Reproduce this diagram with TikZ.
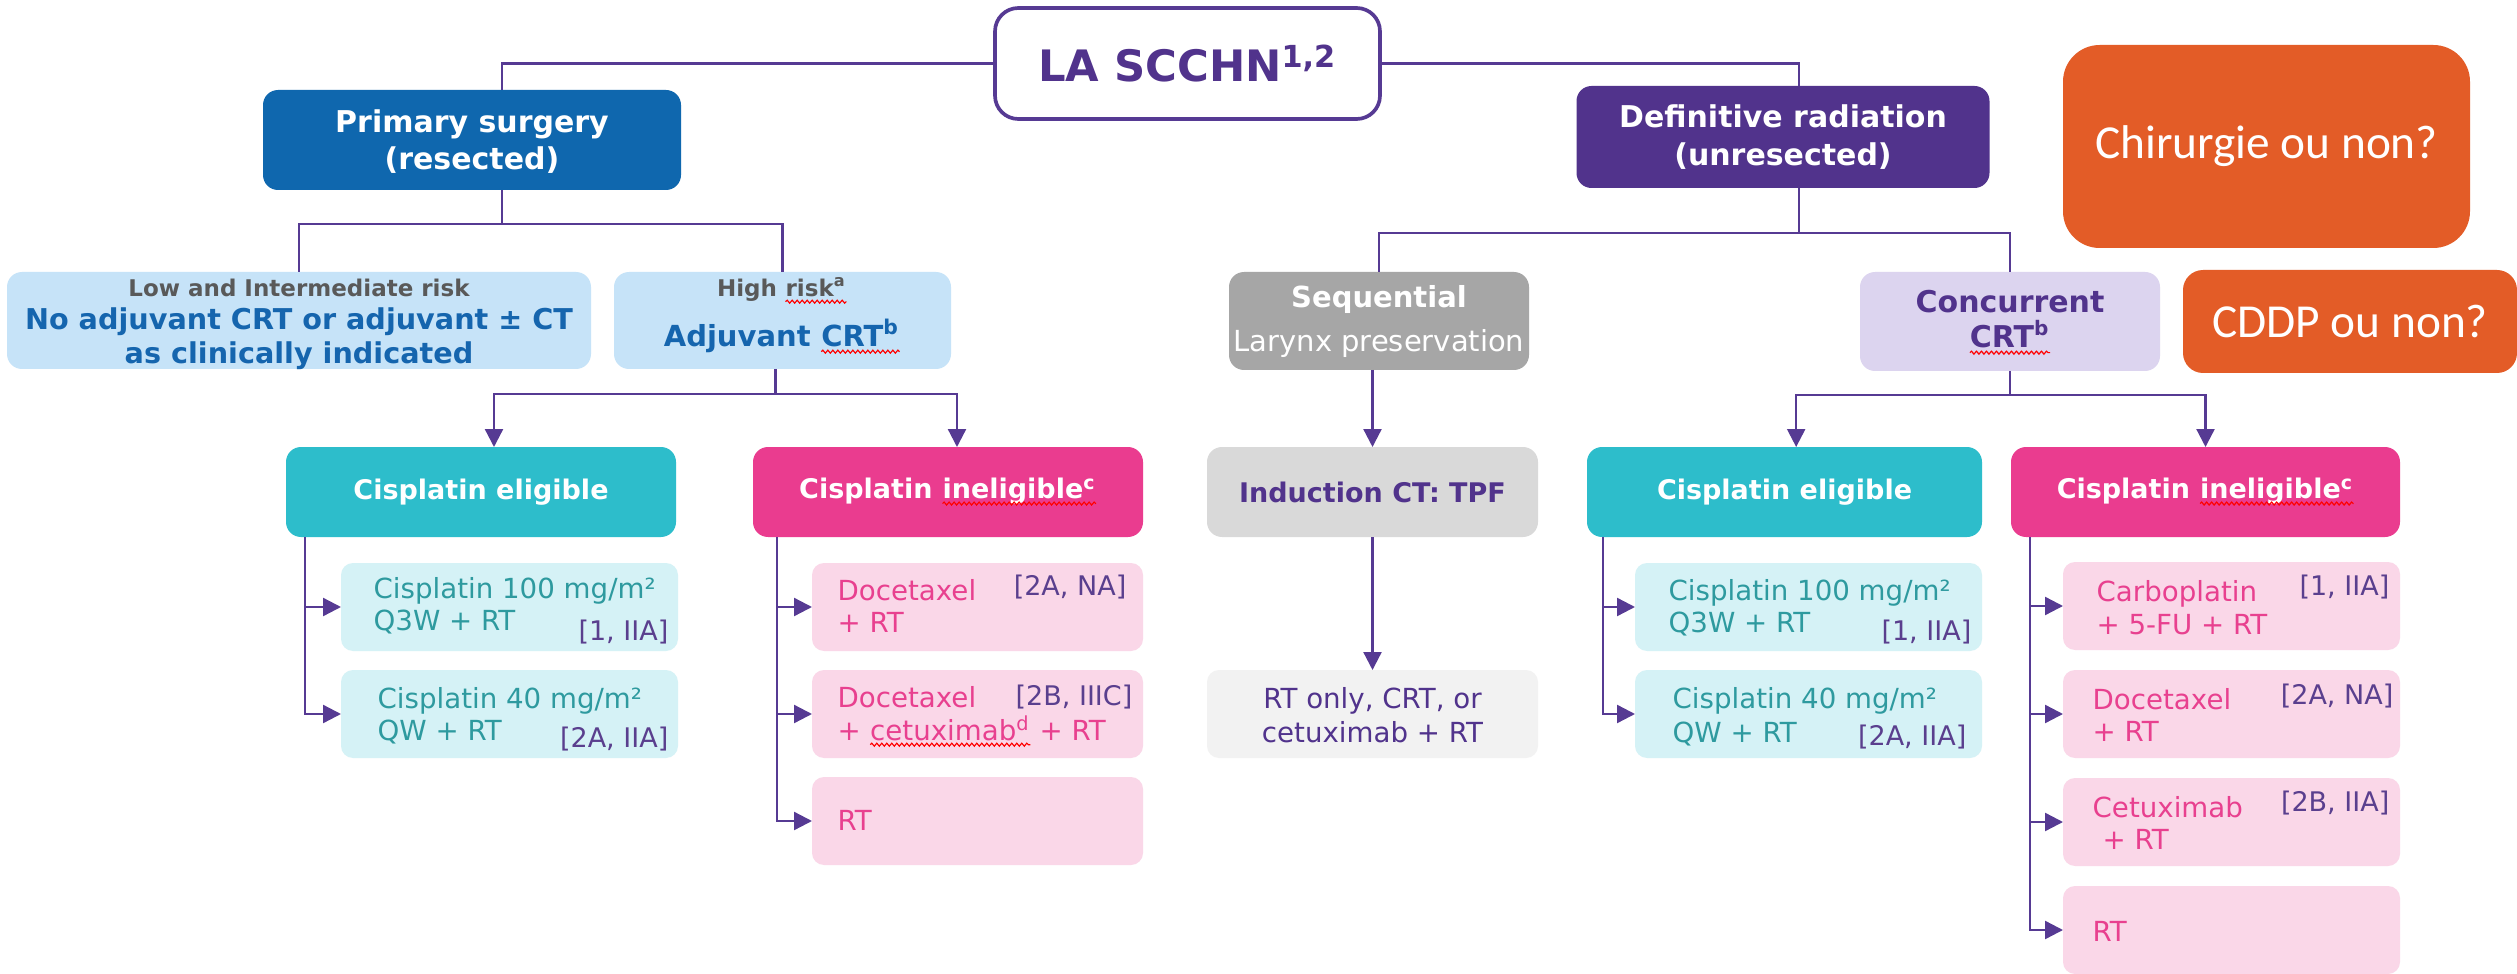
\documentclass[tikz,border=0pt]{standalone}
\usepackage{fontspec}
\setmainfont{DejaVu Sans}
\newfontfamily\calib{Carlito}
\usetikzlibrary{arrows.meta,decorations.pathmorphing}
\newcommand\sq[1]{\tikz[baseline=(sqn.base)]{\node[inner sep=0pt,outer sep=0pt,draw=none,fill=none,rectangle,minimum width=0pt,minimum height=0pt,rounded corners=0pt,anchor=base](sqn){#1};\draw[red,line width=0.35pt,rounded corners=0pt,decorate,decoration={snake,amplitude=0.45pt,segment length=1.5pt}]([yshift=-1.4pt]sqn.base west)--([yshift=-1.4pt]sqn.base east);}}
\definecolor{cline}{HTML}{563A93}
\definecolor{ctitle}{HTML}{51338C}
\definecolor{cblue}{HTML}{0F67AE}
\definecolor{cpurple}{HTML}{51338C}
\definecolor{corange}{HTML}{E35C27}
\definecolor{clblue}{HTML}{C6E3F8}
\definecolor{ctxtblue}{HTML}{1565AE}
\definecolor{cgraytxt}{HTML}{595959}
\definecolor{cgray}{HTML}{A6A6A6}
\definecolor{clav}{HTML}{DCD4EF}
\definecolor{cteal}{HTML}{2DBDCB}
\definecolor{cpink}{HTML}{EA3C8F}
\definecolor{clcyan}{HTML}{D5F2F6}
\definecolor{ctealtxt}{HTML}{2E9A9F}
\definecolor{clpink}{HTML}{FAD7E8}
\definecolor{cpinktxt}{HTML}{E8408F}
\definecolor{cgraytwo}{HTML}{D9D9D9}
\definecolor{cgraythree}{HTML}{F2F2F2}
\definecolor{cref}{HTML}{5A3F8E}
\tikzset{
  conn/.style={draw=cline, line width=0.7pt},
  arr/.style={conn, -{Triangle[length=5.4pt,width=5.4pt]}},
  bx/.style={rounded corners=4.5pt, inner sep=0pt, outer sep=0pt},
  sbx/.style={bx, rounded corners=3.6pt, minimum height=26.4pt},
  hd/.style={font=\fontsize{9}{11}\selectfont\bfseries, text=white},
  lvl/.style={bx, minimum height=27pt, font=\fontsize{8.1}{10}\selectfont\bfseries},
  t/.style={inner sep=0pt, anchor=base},
  tl/.style={inner sep=0pt, anchor=base west},
  subt/.style={tl, font=\fontsize{8.3}{10}\selectfont},
  tealt/.style={subt, text=ctealtxt},
  pinkt/.style={subt, text=cpinktxt},
  ref/.style={inner sep=0pt, anchor=base east, font=\fontsize{8.1}{10}\selectfont, text=cref},
  qbox/.style={bx, fill=corange, text=white, font=\calib\fontsize{14.2}{16}\selectfont},
}
\begin{document}
\begin{tikzpicture}[x=0.3pt, y=-0.3pt]
\useasboundingbox (0,0) rectangle (2517,974);
\fill[white] (0,0) rectangle (2517,974);

% title
\node[bx, draw=cline, line width=1.1pt, fill=white, rounded corners=7pt, minimum width=115.5pt, minimum height=33.3pt, text=ctitle, font=\fontsize{13}{15}\selectfont\bfseries] (title) at (1187.5,63.5) {LA SCCHN\textsuperscript{1,2}};

% level 1
\node[bx, fill=cblue, minimum width=125.4pt, minimum height=30pt] (primary) at (472,140) {};
\node[t, hd] at (472,133) {Primary surgery};
\node[t, hd] at (472,170) {(resected)};

\node[bx, fill=cpurple, minimum width=123.9pt, minimum height=30.6pt] (defrad) at (1783,137) {};
\node[t, hd] at (1783,128) {Definitive radiation};
\node[t, hd] at (1783,166) {(unresected)};

\node[qbox, rounded corners=11pt, minimum width=122.1pt, minimum height=60.9pt] (q1) at (2266.5,146.5) {Chirurgie ou non?};
\node[qbox, rounded corners=6pt, minimum width=100.2pt, minimum height=30.9pt] (q2) at (2350,321.5) {CDDP ou non?};

% level 2
\node[bx, fill=clblue, minimum width=175.2pt, minimum height=29.1pt] (low) at (299,320.5) {};
\node[t, font=\fontsize{6.9}{8}\selectfont\bfseries, text=cgraytxt] at (299,297) {Low and Intermediate risk};
\node[t, font=\fontsize{8.6}{10}\selectfont\bfseries, text=ctxtblue] at (299,330) {No adjuvant CRT or adjuvant ± CT};
\node[t, font=\fontsize{8.6}{10}\selectfont\bfseries, text=ctxtblue] at (299,363) {as clinically indicated};

\node[bx, fill=clblue, minimum width=101.1pt, minimum height=29.1pt] (high) at (782.5,320.5) {};
\node[t, font=\fontsize{6.9}{8}\selectfont\bfseries, text=cgraytxt] at (782,297) {High \sq{risk\textsuperscript{a}}};
\node[t, font=\fontsize{8.7}{10}\selectfont\bfseries, text=ctxtblue] at (782,347) {Adjuvant \sq{CRT\textsuperscript{b}}};

\node[bx, fill=cgray, minimum width=90pt, minimum height=29.4pt] (seq) at (1379,321) {};
\node[t, text=white, font=\fontsize{8.7}{10}\selectfont\bfseries] at (1379,308) {Sequential};
\node[t, text=white, font=\fontsize{8.7}{10}\selectfont] at (1379,352) {Larynx preservation};

\node[bx, fill=clav, minimum width=90pt, minimum height=29.7pt] (conc) at (2010,321.5) {};
\node[t, text=ctitle, font=\fontsize{9}{11}\selectfont\bfseries] at (2010,313) {Concurrent};
\node[t, text=ctitle, font=\fontsize{9}{11}\selectfont\bfseries] at (2010,348) {\sq{CRT\textsuperscript{b}}};

% level 3
\node[lvl, fill=cteal, text=white, minimum width=117pt] (lelig) at (481,492) {Cisplatin eligible};
\node[lvl, fill=cpink, text=white, minimum width=117pt] (linel) at (948,492) {Cisplatin \sq{ineligible\textsuperscript{c}}};
\node[lvl, fill=cgraytwo, text=ctitle, minimum width=99.3pt] (induct) at (1372.5,492) {Induction CT: TPF};
\node[lvl, fill=cteal, text=white, minimum width=118.5pt] (relig) at (1784.5,492) {Cisplatin eligible};
\node[lvl, fill=cpink, text=white, minimum width=116.7pt] (rinel) at (2205.5,492) {Cisplatin \sq{ineligible\textsuperscript{c}}};

% sub boxes
\node[sbx, fill=clcyan, minimum width=101.1pt] (le1) at (509.5,607) {};
\node[sbx, fill=clcyan, minimum width=101.1pt] (le2) at (509.5,714) {};
\node[sbx, fill=clpink, minimum width=99.3pt] (li1) at (977.5,607) {};
\node[sbx, fill=clpink, minimum width=99.3pt] (li2) at (977.5,714) {};
\node[sbx, fill=clpink, minimum width=99.3pt] (li3) at (977.5,821) {};
\node[sbx, fill=cgraythree, minimum width=99.3pt] (rt) at (1372.5,714) {};
\node[sbx, fill=clcyan, minimum width=104.1pt] (re1) at (1808.5,607) {};
\node[sbx, fill=clcyan, minimum width=104.1pt] (re2) at (1808.5,714) {};
\node[sbx, fill=clpink, minimum width=101.1pt] (ri1) at (2231.5,606) {};
\node[sbx, fill=clpink, minimum width=101.1pt] (ri2) at (2231.5,714) {};
\node[sbx, fill=clpink, minimum width=101.1pt] (ri3) at (2231.5,822) {};
\node[sbx, fill=clpink, minimum width=101.1pt] (ri4) at (2231.5,930) {};

% sub box texts
\node[tealt] at (373,598) {Cisplatin 100 mg/m²};
\node[tealt] at (373,630) {Q3W + RT};
\node[ref] at (669,640) {[1, IIA]};
\node[tealt] at (377,708) {Cisplatin 40 mg/m²};
\node[tealt] at (377,740) {QW + RT};
\node[ref] at (669,747) {[2A, IIA]};

\node[pinkt] at (837,600) {Docetaxel};
\node[pinkt] at (837,632) {+ RT};
\node[ref] at (1127,595) {[2A, NA]};
\node[pinkt] at (837,707) {Docetaxel};
\node[pinkt] at (837,740) {+ \sq{cetuximab\textsuperscript{d}} + RT};
\node[ref] at (1133,705) {[2B, IIIC]};
\node[pinkt] at (837,830) {RT};

\node[t, text=ctitle, font=\fontsize{8.3}{10}\selectfont] at (1372.5,708) {RT only, CRT, or};
\node[t, text=ctitle, font=\fontsize{8.3}{10}\selectfont] at (1372.5,742) {cetuximab + RT};

\node[tealt] at (1668,600) {Cisplatin 100 mg/m²};
\node[tealt] at (1668,632) {Q3W + RT};
\node[ref] at (1972,640) {[1, IIA]};
\node[tealt] at (1672,708) {Cisplatin 40 mg/m²};
\node[tealt] at (1672,742) {QW + RT};
\node[ref] at (1967,745) {[2A, IIA]};

\node[pinkt] at (2096,601) {Carboplatin};
\node[pinkt] at (2096,634) {+ 5-FU + RT};
\node[ref] at (2390,595) {[1, IIA]};
\node[pinkt] at (2092,709) {Docetaxel};
\node[pinkt] at (2092,741) {+ RT};
\node[ref] at (2394,704) {[2A, NA]};
\node[pinkt] at (2092,817) {Cetuximab};
\node[pinkt] at (2102,849) {+ RT};
\node[ref] at (2390,811) {[2B, IIA]};
\node[pinkt] at (2092,941) {RT};

% connectors
\draw[conn] (title.west) -| ([xshift=9pt]primary.north);
\draw[conn] (title.east) -| ([xshift=4.8pt]defrad.north);

\draw[conn] ([xshift=9pt]primary.south) -- ++(0,34) coordinate (b1);
\draw[conn] (low.north) |- (b1) -| (high.north);

\draw[conn] ([xshift=-2.1pt]high.south) -- ++(0,25) coordinate (b2);
\draw[arr] (b2) -| ([xshift=3.9pt]lelig.north);
\draw[arr] (b2) -| ([xshift=2.7pt]linel.north);

\draw[conn] ([xshift=4.8pt]defrad.south) -- ++(0,45) coordinate (b3);
\draw[conn] (seq.north) |- (b3) -| (conc.north);

\draw[arr] (induct.north |- seq.south) -- (induct.north);

\draw[conn] (conc.south) -- ++(0,24) coordinate (b4);
\draw[arr] (b4) -| ([xshift=3.5pt]relig.north);
\draw[arr] (b4) -| (rinel.north);

\draw[arr] (induct.south) -- (rt.north);

\draw[arr] ([xshift=5.7pt]lelig.south west) |- (le1.west);
\draw[arr] ([xshift=5.7pt]lelig.south west) |- (le2.west);

\draw[arr] ([xshift=7.2pt]linel.south west) |- (li1.west);
\draw[arr] ([xshift=7.2pt]linel.south west) |- (li2.west);
\draw[arr] ([xshift=7.2pt]linel.south west) |- (li3.west);

\draw[arr] ([xshift=4.8pt]relig.south west) |- (re1.west);
\draw[arr] ([xshift=4.8pt]relig.south west) |- (re2.west);

\draw[arr] ([xshift=5.7pt]rinel.south west) |- (ri1.west);
\draw[arr] ([xshift=5.7pt]rinel.south west) |- (ri2.west);
\draw[arr] ([xshift=5.7pt]rinel.south west) |- (ri3.west);
\draw[arr] ([xshift=5.7pt]rinel.south west) |- (ri4.west);
\end{tikzpicture}
\end{document}
